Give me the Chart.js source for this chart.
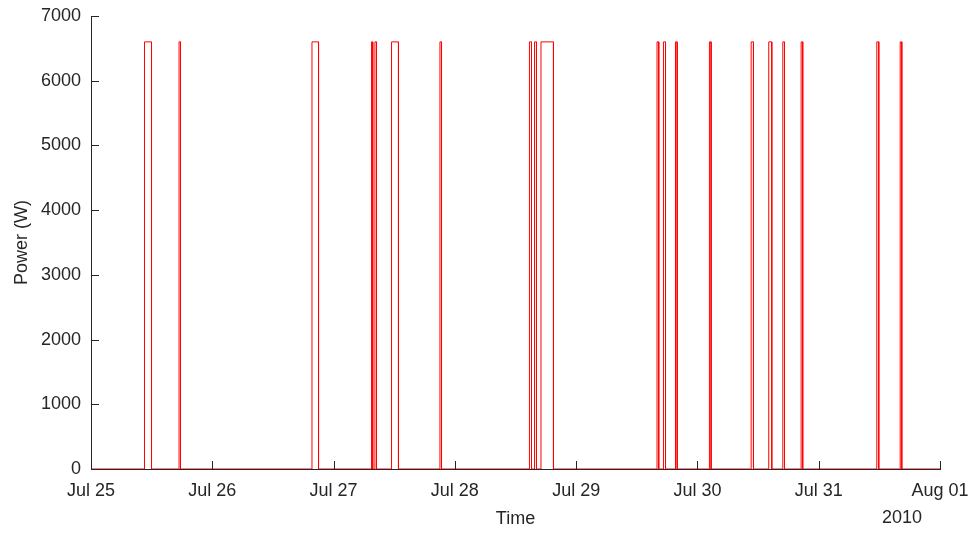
<!DOCTYPE html>
<html>
<head>
<meta charset="utf-8">
<script src="https://cdn.jsdelivr.net/npm/chart.js@4/dist/chart.umd.min.js"></script>
<style>
  html, body { margin: 0; padding: 0; background: #ffffff; }
  #wrap { width: 973px; height: 533px; position: relative; }
</style>
</head>
<body>
<div id="wrap"><canvas id="c" width="973" height="533"></canvas></div>
<script>
// Heater switching events, times in days since Jul 25 2010 00:00
const onTimes  = [0.441, 0.726, 1.822, 2.313, 2.341, 2.478, 2.877, 3.615, 3.657, 3.710,
                  4.667, 4.720, 4.819, 5.099, 5.443, 5.588, 5.704, 5.855, 6.479, 6.672];
const offTimes = [0.499, 0.738, 1.876, 2.323, 2.354, 2.535, 2.890, 3.632, 3.673, 3.813,
                  4.681, 4.737, 4.833, 5.113, 5.462, 5.613, 5.718, 5.868, 6.495, 6.685];
const onPower = 6600;   // W while switched on
const offPower = 0;
const dayLabels = ['Jul 25', 'Jul 26', 'Jul 27', 'Jul 28', 'Jul 29', 'Jul 30', 'Jul 31', 'Aug 01'];
const yearLabel = '2010';
const yMax = 7000;
const yStep = 1000;

// Build the stair-step trace from the on/off lists
const trace = [{ x: 0, y: offPower }];
for (let i = 0; i < onTimes.length; i++) {
  trace.push({ x: onTimes[i], y: offPower });
  trace.push({ x: onTimes[i], y: onPower });
  trace.push({ x: offTimes[i], y: onPower });
  trace.push({ x: offTimes[i], y: offPower });
}
trace.push({ x: dayLabels.length - 1, y: offPower });

const axisColor = '#262626';
const fontSpec = { family: '"Liberation Sans", Arial, Helvetica, sans-serif', size: 18 };

// Inward tick marks and the year label under the date axis
const axisDecor = {
  id: 'axisDecor',
  afterDatasetsDraw(chart) {
    const { ctx, chartArea, scales } = chart;
    const len = 8;
    ctx.save();
    ctx.strokeStyle = axisColor;
    ctx.lineWidth = 1;
    ctx.beginPath();
    scales.y.ticks.forEach(t => {
      const py = Math.round(scales.y.getPixelForValue(t.value)) + 0.5;
      ctx.moveTo(chartArea.left, py);
      ctx.lineTo(chartArea.left + len, py);
    });
    scales.x.ticks.forEach(t => {
      const px = Math.round(scales.x.getPixelForValue(t.value)) + 0.5;
      ctx.moveTo(px, chartArea.bottom);
      ctx.lineTo(px, chartArea.bottom - len);
    });
    ctx.stroke();
    ctx.fillStyle = axisColor;
    ctx.font = fontSpec.size + 'px ' + fontSpec.family;
    ctx.textAlign = 'center';
    ctx.textBaseline = 'middle';
    ctx.fillText(yearLabel, scales.x.getPixelForValue(dayLabels.length - 1) - 38, 518);
    ctx.restore();
  }
};

new Chart(document.getElementById('c'), {
  type: 'line',
  data: {
    datasets: [{
      data: trace,
      borderColor: '#ff0000',
      borderWidth: 1,
      pointRadius: 0,
      tension: 0,
      fill: false
    }]
  },
  options: {
    responsive: false,
    animation: false,
    layout: { padding: { top: 16, right: 33, bottom: 0, left: 0 } },
    plugins: { legend: { display: false }, tooltip: { enabled: false } },
    scales: {
      x: {
        type: 'linear',
        min: 0,
        max: dayLabels.length - 1,
        afterFit(scale) {
          scale.height = 64;
          scale.paddingLeft = 0;
          scale.paddingRight = 0;
        },
        grid: { display: true, drawOnChartArea: false, drawTicks: false },
        border: { display: true, color: axisColor, width: 1 },
        ticks: {
          stepSize: 1,
          autoSkip: false,
          maxRotation: 0,
          padding: 11,
          color: axisColor,
          font: fontSpec,
          callback: v => dayLabels[v]
        },
        title: {
          display: true,
          text: 'Time',
          color: axisColor,
          font: fontSpec,
          padding: { top: 0, bottom: 3 }
        }
      },
      y: {
        min: 0,
        max: yMax,
        afterFit(scale) {
          scale.width = 91;
          scale.paddingTop = 0;
          scale.paddingBottom = 0;
        },
        grid: { display: true, drawOnChartArea: false, drawTicks: false },
        border: { display: true, color: axisColor, width: 1 },
        ticks: {
          stepSize: yStep,
          padding: 10,
          color: axisColor,
          font: fontSpec,
          callback: v => String(v)
        },
        title: {
          display: true,
          text: 'Power (W)',
          color: axisColor,
          font: fontSpec,
          padding: { top: 11, bottom: 0 }
        }
      }
    }
  },
  plugins: [axisDecor]
});
</script>
</body>
</html>
